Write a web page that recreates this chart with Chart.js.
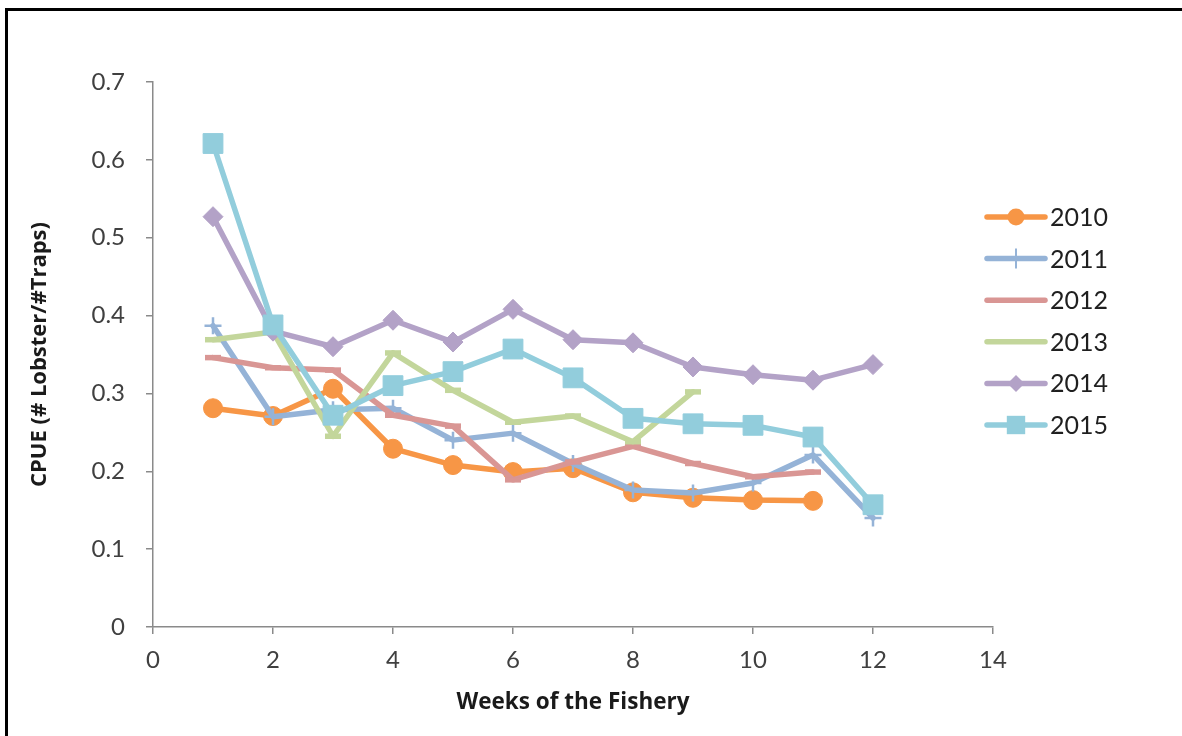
<!DOCTYPE html>
<html>
<head>
<meta charset="utf-8">
<title>CPUE by week of the fishery</title>
<script src="https://cdn.jsdelivr.net/npm/chart.js@4/dist/chart.umd.min.js"></script>
<style>
  html, body { margin: 0; padding: 0; background: #ffffff; }
  #wrap { position: relative; width: 1182px; height: 736px; overflow: hidden; background: #ffffff; }
  #frame {
    position: absolute; left: 5px; top: 8px; width: 1300px; height: 900px;
    border-left: 3px solid #000; border-top: 3px solid #000; pointer-events: none;
  }
  canvas { position: absolute; left: 0; top: 0; }
</style>
</head>
<body>
<div id="wrap">
  <canvas id="chart" width="1182" height="736"></canvas>
  <div id="frame"></div>
</div>
<script>
// Week numbers of the fishery
const weeks = [1, 2, 3, 4, 5, 6, 7, 8, 9, 10, 11, 12];

// CPUE (# lobster / # traps) per season
const cpue2010 = [0.281, 0.271, 0.306, 0.229, 0.208, 0.199, 0.204, 0.173, 0.166, 0.163, 0.162];
const cpue2011 = [0.387, 0.270, 0.279, 0.281, 0.240, 0.249, 0.210, 0.176, 0.172, 0.185, 0.221, 0.140];
const cpue2012 = [0.346, 0.333, 0.330, 0.272, 0.258, 0.189, 0.212, 0.232, 0.210, 0.193, 0.199];
const cpue2013 = [0.369, 0.379, 0.245, 0.352, 0.304, 0.263, 0.271, 0.238, 0.302];
const cpue2014 = [0.527, 0.380, 0.360, 0.394, 0.366, 0.408, 0.369, 0.365, 0.334, 0.324, 0.317, 0.337];
const cpue2015 = [0.621, 0.388, 0.272, 0.310, 0.328, 0.357, 0.320, 0.268, 0.261, 0.259, 0.244, 0.157];

const seasons = ['2010', '2011', '2012', '2013', '2014', '2015'];

// Axis tick labels
const xTickLabels = ['0', '2', '4', '6', '8', '10', '12', '14'];
const yTickLabels = ['0', '0.1', '0.2', '0.3', '0.4', '0.5', '0.6', '0.7'];

const FONT = 'Lato, "Open Sans", "Liberation Sans", sans-serif';
const TITLE_FONT = '"Open Sans", Lato, "Liberation Sans", sans-serif';

const styles = [
  { color: '#F79646', point: 'circle',  radius: 9.5, pbw: 1,   legendR: 8.5 },
  { color: '#95B3D7', point: 'cross',   radius: 8.5, pbw: 2.5, legendR: 10 },
  { color: '#D99694', point: 'line',    radius: 8,   pbw: 5.5, legendR: 0 },
  { color: '#C3D69B', point: 'line',    radius: 8,   pbw: 5.5, legendR: 0 },
  { color: '#B3A2C7', point: 'rectRot', radius: 10,  pbw: 1,   legendR: 8.5 },
  { color: '#92CDDC', point: 'rect',    radius: 14,  pbw: 1,   legendR: 13 }
];

const series = [cpue2010, cpue2011, cpue2012, cpue2013, cpue2014, cpue2015];

const datasets = series.map((vals, i) => ({
  label: seasons[i],
  data: vals.map((v, k) => ({ x: weeks[k], y: v })),
  borderColor: styles[i].color,
  backgroundColor: styles[i].color,
  borderWidth: 5.5,
  borderCapStyle: 'round',
  borderJoinStyle: 'round',
  pointStyle: styles[i].point,
  pointRadius: styles[i].radius,
  pointHoverRadius: styles[i].radius,
  pointBorderWidth: styles[i].pbw,
  pointBorderColor: styles[i].color,
  pointBackgroundColor: styles[i].color,
  tension: 0,
  fill: false,
  // later seasons are painted over earlier ones
  order: series.length - 1 - i
}));

// Legend drawn at the right: a line sample with the series marker, then the year
const sideLegend = {
  id: 'sideLegend',
  afterDraw(chart) {
    const ctx = chart.ctx;
    const x0 = 987, x1 = 1045, mx = 1016, tx = 1050;
    const y0 = 217, dy = 41.6;
    ctx.save();
    seasons.forEach((name, i) => {
      const st = styles[i];
      const y = y0 + i * dy;
      ctx.strokeStyle = st.color;
      ctx.fillStyle = st.color;
      ctx.lineWidth = 5.5;
      ctx.lineCap = 'round';
      ctx.beginPath();
      ctx.moveTo(x0, y);
      ctx.lineTo(x1, y);
      ctx.stroke();
      const r = st.legendR;
      if (st.point === 'circle') {
        ctx.beginPath();
        ctx.arc(mx, y, r, 0, Math.PI * 2);
        ctx.fill();
      } else if (st.point === 'cross') {
        ctx.lineWidth = 2;
        ctx.lineCap = 'butt';
        ctx.beginPath();
        ctx.moveTo(mx, y - r);
        ctx.lineTo(mx, y + r);
        ctx.stroke();
      } else if (st.point === 'rectRot') {
        ctx.beginPath();
        ctx.moveTo(mx - r, y);
        ctx.lineTo(mx, y - r);
        ctx.lineTo(mx + r, y);
        ctx.lineTo(mx, y + r);
        ctx.closePath();
        ctx.fill();
      } else if (st.point === 'rect') {
        const h = r * Math.SQRT1_2;
        ctx.fillRect(mx - h, y - h, 2 * h, 2 * h);
      }
      ctx.fillStyle = '#1f1f1f';
      ctx.font = '25px ' + FONT;
      ctx.textAlign = 'left';
      ctx.textBaseline = 'middle';
      ctx.fillText(name, tx, y + 1);
    });
    ctx.restore();
  }
};

const axisColor = '#8a8a8a';

new Chart(document.getElementById('chart'), {
  type: 'line',
  data: { datasets },
  plugins: [sideLegend],
  options: {
    responsive: false,
    animation: false,
    devicePixelRatio: 1,
    layout: { padding: { left: 0, top: 82, right: 189, bottom: 0 } },
    plugins: {
      legend: { display: false },
      tooltip: { enabled: false },
      title: { display: false }
    },
    scales: {
      x: {
        type: 'linear',
        min: 0,
        max: 14,
        afterFit(scale) { scale.height = 109; },
        afterBuildTicks(scale) {
          scale.ticks = xTickLabels.map(t => ({ value: Number(t) }));
        },
        ticks: {
          autoSkip: false,
          maxRotation: 0,
          padding: 12,
          color: '#404040',
          font: { family: FONT, size: 24, lineHeight: 1.2 },
          callback: (v, i) => xTickLabels[i]
        },
        grid: {
          display: true,
          drawOnChartArea: false,
          drawTicks: true,
          tickLength: 7,
          color: axisColor,
          lineWidth: 1.5
        },
        border: { display: true, color: axisColor, width: 1.5 },
        title: {
          display: true,
          text: 'Weeks of the Fishery',
          color: '#1a1a1a',
          font: { family: TITLE_FONT, size: 22.5, weight: 'bold', lineHeight: 1.2 },
          padding: { top: 0, bottom: 20 }
        }
      },
      y: {
        type: 'linear',
        min: 0,
        max: 0.7,
        afterFit(scale) { scale.width = 153; },
        afterBuildTicks(scale) {
          scale.ticks = yTickLabels.map(t => ({ value: Number(t) }));
        },
        ticks: {
          autoSkip: false,
          padding: 21,
          color: '#404040',
          font: { family: FONT, size: 24, lineHeight: 1.2 },
          callback: (v, i) => yTickLabels[i]
        },
        grid: {
          display: true,
          drawOnChartArea: false,
          drawTicks: true,
          tickLength: 7,
          color: axisColor,
          lineWidth: 1.5
        },
        border: { display: true, color: axisColor, width: 1.5 },
        title: {
          display: true,
          text: 'CPUE (# Lobster/#Traps)',
          color: '#1a1a1a',
          font: { family: TITLE_FONT, size: 22, weight: 'bold', lineHeight: 1.2 },
          padding: { top: 27, bottom: 0 }
        }
      }
    }
  }
});
</script>
</body>
</html>
